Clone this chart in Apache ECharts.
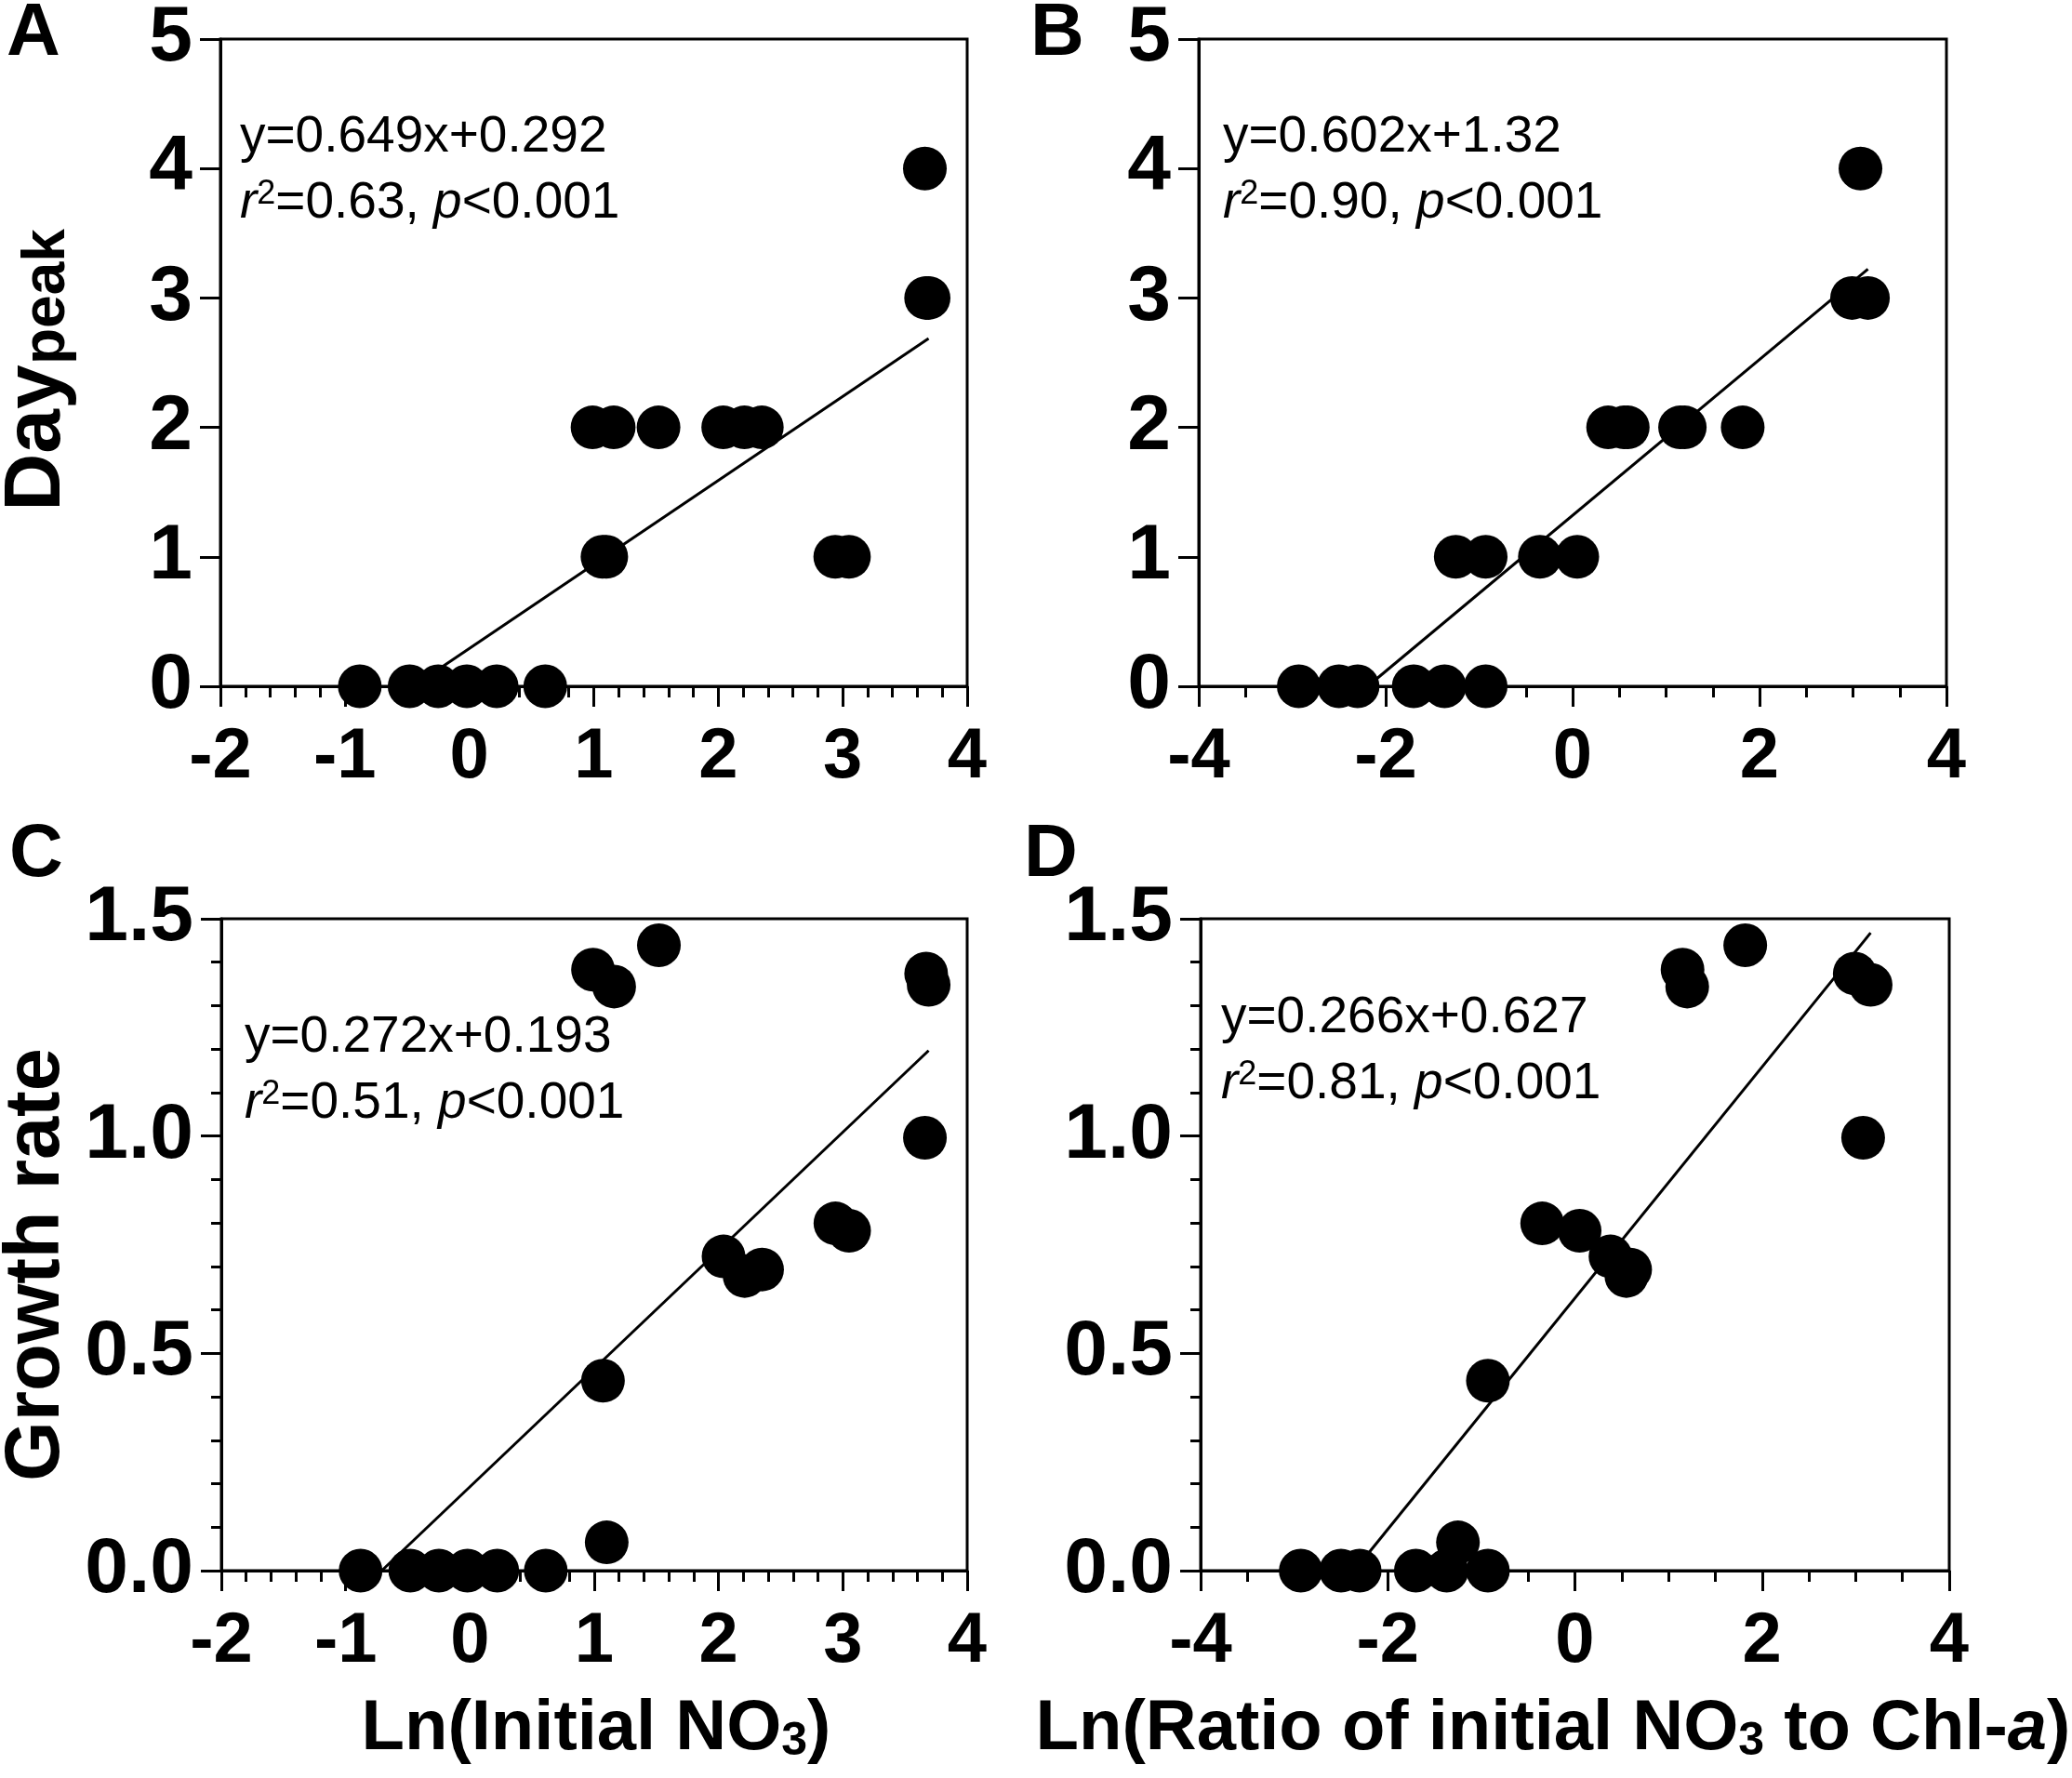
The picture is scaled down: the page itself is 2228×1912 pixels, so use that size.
<!DOCTYPE html>
<html>
<head>
<meta charset="utf-8">
<script src="https://cdn.jsdelivr.net/npm/echarts@6/dist/echarts.min.js"></script>
<style>
html,body{margin:0;padding:0;background:#fff;}
#chart{width:2228px;height:1912px;}
</style>
</head>
<body>
<div id="chart"></div>
<script>
// ---- data ----
const lnInitialNO3 = [-0.88,-0.48,-0.25,-0.02,0.22,0.61,1.10,1.07,0.99,1.16,1.52,2.04,2.21,2.35,2.94,3.05,3.67,3.69,3.66];
const lnRatioNO3Chl = [-2.93,-2.50,-2.30,-1.70,-1.37,-0.93,-1.25,-0.93,1.15,1.20,1.82,0.38,0.55,0.59,-0.35,0.05,2.99,3.16,3.08];
const dayPeak = [0,0,0,0,0,0,1,1,2,2,2,2,2,2,1,1,3,3,4];
const growthRate = [0,0,0,0,0,0,0.065,0.437,1.383,1.344,1.439,0.723,0.678,0.693,0.799,0.782,1.374,1.348,0.996];

const fitSlopes = [0.649, 0.602, 0.272, 0.266];
const fitIntercepts = [0.292, 1.32, 0.193, 0.627];
const eqLines = ['y=0.649x+0.292', 'y=0.602x+1.32', 'y=0.272x+0.193', 'y=0.266x+0.627'];
const r2Values = ['0.63', '0.90', '0.51', '0.81'];
const panelLetters = ['A', 'B', 'C', 'D'];

const xTicksA = [-2, 4, 1];   // min, max, interval
const xTicksB = [-4, 4, 2];
const yTicksDay = [0, 5, 1];
const yTicksGrowth = [0, 1.5, 0.5];

// ---- layout ----
const grids = [
  {left: 237, top: 35, width: 803, height: 703},
  {left: 1289, top: 35, width: 804, height: 703},
  {left: 238, top: 988, width: 802, height: 701},
  {left: 1291, top: 988, width: 805, height: 701}
];
const FONT = 'Liberation Sans, Arial, sans-serif';

function pairs(xs, ys) { return xs.map((x, i) => [x, ys[i]]); }
function fitLine(k, xs) {
  const m = fitSlopes[k], b = fitIntercepts[k];
  const xmin = Math.max(Math.min(...xs), -b / m);
  const xmax = Math.max(...xs);
  return [[xmin, m * xmin + b], [xmax, m * xmax + b]];
}

function xAxis(gi, t, minorSplit) {
  return {
    type: 'value', gridIndex: gi, min: t[0], max: t[1], interval: t[2],
    axisLine: {show: true, onZero: false, lineStyle: {color: '#000', width: 3}},
    axisTick: {show: true, length: 22, lineStyle: {color: '#000', width: 3}},
    minorTick: {show: true, splitNumber: minorSplit, length: 12, lineStyle: {color: '#000', width: 3}},
    splitLine: {show: false},
    axisLabel: {color: '#000', fontFamily: FONT, fontWeight: 'bold', fontSize: 76, margin: 39}
  };
}
function yAxis(gi, t, minor, decimals) {
  return {
    type: 'value', gridIndex: gi, min: t[0], max: t[1], interval: t[2],
    axisLine: {show: true, onZero: false, lineStyle: {color: '#000', width: 3}},
    axisTick: {show: true, length: 22, lineStyle: {color: '#000', width: 3}},
    minorTick: {show: minor, splitNumber: 5, length: 11, lineStyle: {color: '#000', width: 3}},
    splitLine: {show: false},
    axisLabel: {color: '#000', fontFamily: FONT, fontWeight: 'bold', fontSize: 84, margin: 30,
      formatter: v => v.toFixed(decimals)}
  };
}

const xsPerPanel = [lnInitialNO3, lnRatioNO3Chl, lnInitialNO3, lnRatioNO3Chl];
const ysPerPanel = [dayPeak, dayPeak, growthRate, growthRate];

const series = [];
for (let k = 0; k < 4; k++) {
  series.push({
    type: 'line', xAxisIndex: k, yAxisIndex: k, data: fitLine(k, xsPerPanel[k]),
    symbol: 'none', clip: false, lineStyle: {color: '#000', width: 3}, z: 2, silent: true
  });
  series.push({
    type: 'scatter', xAxisIndex: k, yAxisIndex: k, data: pairs(xsPerPanel[k], ysPerPanel[k]),
    symbol: 'circle', symbolSize: 47, clip: false, itemStyle: {color: '#000', opacity: 1}, z: 3, silent: true
  });
}

// ---- text annotations ----
const eqPos = [[258, 148], [1315, 148], [263, 1116], [1313, 1095]];
const lineGap = 71;
const graphics = [];
const richEq = {
  n: {fontFamily: FONT, fontSize: 55, color: '#000'},
  i: {fontFamily: FONT, fontSize: 55, fontStyle: 'italic', color: '#000'},
  sup: {fontFamily: FONT, fontSize: 36, color: '#000', verticalAlign: 'top'}
};
for (let k = 0; k < 4; k++) {
  graphics.push({type: 'text', x: eqPos[k][0], y: eqPos[k][1],
    style: {text: eqLines[k], font: '55px ' + FONT, fill: '#000', align: 'left', verticalAlign: 'middle'}});
  graphics.push({type: 'text', x: eqPos[k][0], y: eqPos[k][1] + lineGap,
    style: {text: '{i|r}{sup|2}{n|=' + r2Values[k] + ', }{i|p}{n|<0.001}', rich: richEq,
      fill: '#000', align: 'left', verticalAlign: 'middle', font: '55px ' + FONT}});
}
const letterPos = [[7, 37], [1108, 37], [10, 920], [1101, 920]];
for (let k = 0; k < 4; k++) {
  graphics.push({type: 'text', x: letterPos[k][0], y: letterPos[k][1],
    style: {text: panelLetters[k], font: 'bold 80px ' + FONT, fill: '#000', align: 'left', verticalAlign: 'middle'}});
}
const richTitle = {
  b: {fontFamily: FONT, fontWeight: 'bold', fontSize: 76, color: '#000', verticalAlign: 'bottom'},
  bi: {fontFamily: FONT, fontWeight: 'bold', fontStyle: 'italic', fontSize: 76, color: '#000', verticalAlign: 'bottom'},
  s: {fontFamily: FONT, fontWeight: 'bold', fontSize: 50, color: '#000', verticalAlign: 'bottom'},
  big: {fontFamily: FONT, fontWeight: 'bold', fontSize: 86, color: '#000', verticalAlign: 'bottom'},
  mid: {fontFamily: FONT, fontWeight: 'bold', fontSize: 64, color: '#000', verticalAlign: 'bottom'},
  y: {fontFamily: FONT, fontWeight: 'bold', fontSize: 83, color: '#000', verticalAlign: 'bottom'}
};
graphics.push({type: 'text', x: 641, y: 1860,
  style: {text: '{b|Ln(Initial NO}{s|3}{b|)}', rich: richTitle, align: 'center', verticalAlign: 'middle'}});
graphics.push({type: 'text', x: 1670, y: 1860,
  style: {text: '{b|Ln(Ratio of initial NO}{s|3}{b| to Chl-}{bi|a}{b|)}', rich: richTitle, align: 'center', verticalAlign: 'middle'}});
graphics.push({type: 'text', x: 40, y: 398, rotation: Math.PI / 2,
  style: {text: '{big|Day}{mid|peak}', rich: richTitle, align: 'center', verticalAlign: 'middle'}});
graphics.push({type: 'text', x: 40, y: 1360, rotation: Math.PI / 2,
  style: {text: '{y|Growth rate}', rich: richTitle, align: 'center', verticalAlign: 'middle'}});

const chart = echarts.init(document.getElementById('chart'), null, {renderer: 'canvas'});
chart.setOption({
  animation: false,
  backgroundColor: '#fff',
  grid: grids.map(g => Object.assign({show: true, borderColor: '#000', borderWidth: 3, containLabel: false}, g)),
  xAxis: [xAxis(0, xTicksA, 5), xAxis(1, xTicksB, 4), xAxis(2, xTicksA, 5), xAxis(3, xTicksB, 4)],
  yAxis: [yAxis(0, yTicksDay, false, 0), yAxis(1, yTicksDay, false, 0), yAxis(2, yTicksGrowth, true, 1), yAxis(3, yTicksGrowth, true, 1)],
  series: series,
  graphic: graphics
});
</script>
</body>
</html>
